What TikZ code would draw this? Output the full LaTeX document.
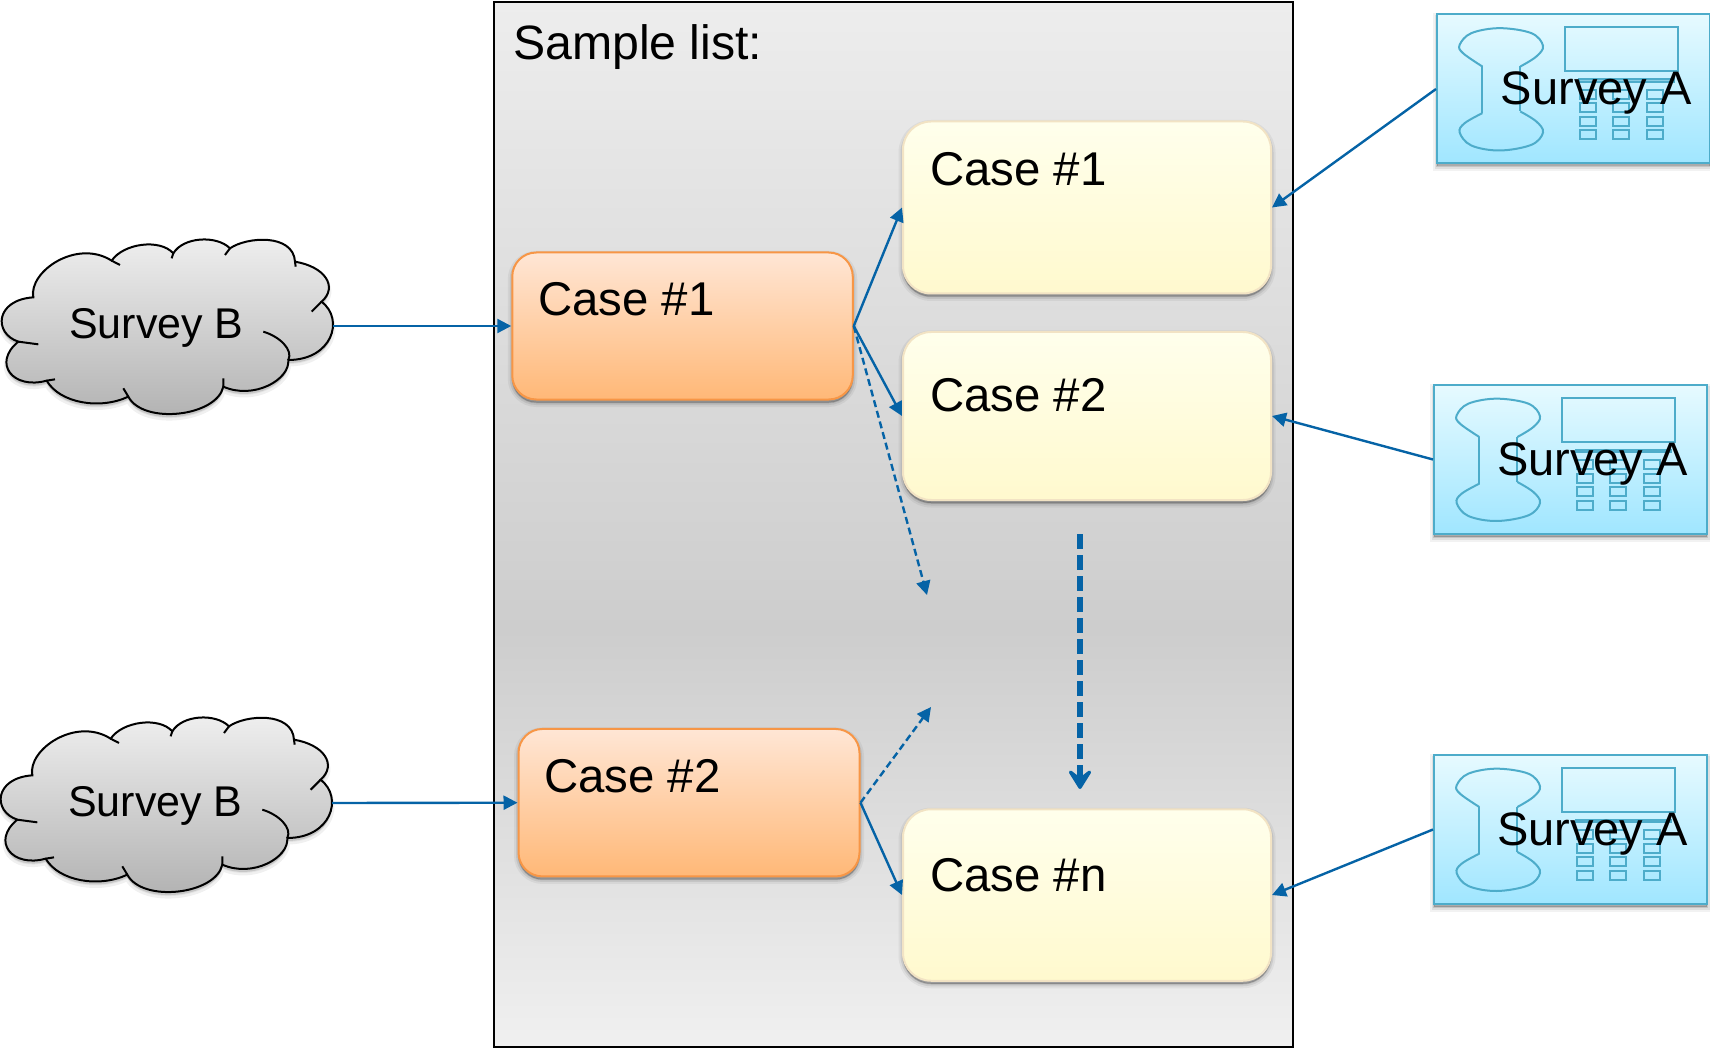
\documentclass[tikz,border=0pt]{standalone}
\usepackage{fontspec}
\setmainfont{Liberation Sans}
\usetikzlibrary{arrows.meta,shadows}
\definecolor{linkblue}{HTML}{0563A6}
\definecolor{cyanline}{HTML}{4DACCA}
\definecolor{panelbot}{HTML}{F0F0F0}
\definecolor{panelmid}{HTML}{CDCDCD}
\definecolor{paneltop}{HTML}{EDEDED}
\definecolor{orangeedge}{HTML}{F79646}
\definecolor{orangetop}{HTML}{FFE6D5}
\definecolor{orangebot}{HTML}{FFB877}
\definecolor{yellowedge}{HTML}{F2E3C4}
\definecolor{yellowtop}{HTML}{FFFFEC}
\definecolor{yellowbot}{HTML}{FFF9CE}
\definecolor{phonetop}{HTML}{E6FAFF}
\definecolor{phonebot}{HTML}{A0E6FF}
\definecolor{cloudtop}{HTML}{F0F0F0}
\definecolor{cloudbot}{HTML}{B0B0B0}
\pgfdeclareverticalshading{panelshade}{100bp}{color(0bp)=(panelbot); color(25bp)=(panelbot); color(45bp)=(panelmid); color(75bp)=(paneltop); color(100bp)=(paneltop)}
\tikzset{
  softshadow/.style={
    general shadow={shadow xshift=0pt,shadow yshift=-3pt,draw=black,fill=black,line width=9pt,opacity=.05},
    general shadow={shadow xshift=0pt,shadow yshift=-3pt,draw=black,fill=black,line width=5pt,opacity=.08},
    general shadow={shadow xshift=0pt,shadow yshift=-3pt,draw=black,fill=black,line width=1.5pt,opacity=.12}},
  panelbox/.style={draw=black,line width=1.8pt,shading=panelshade,inner sep=0pt},
  orangebox/.style={draw=orangeedge,line width=2pt,rounded corners=24pt,top color=orangetop,bottom color=orangebot,softshadow,inner sep=0pt},
  yellowbox/.style={draw=yellowedge,line width=2pt,rounded corners=28pt,top color=yellowtop,bottom color=yellowbot,softshadow,inner sep=0pt},
  phonebox/.style={draw=cyanline,line width=2pt,top color=phonetop,bottom color=phonebot,softshadow,inner sep=0pt,minimum width=273pt,minimum height=149pt},
  ghost/.style={inner sep=0pt,minimum width=331pt,minimum height=173pt},
  casetxt/.style={anchor=base west,inner sep=0pt,font=\fontsize{47.4}{56}\selectfont,text=black},
  titletxt/.style={anchor=base west,inner sep=0pt,font=\fontsize{48.2}{56}\selectfont,text=black},
  cloudtxt/.style={anchor=base west,inner sep=0pt,font=\fontsize{43}{50}\selectfont,text=black},
  link/.style={draw=linkblue,line width=2.4pt,-{Triangle[length=14pt,width=14pt]}},
  dashlink/.style={link,dash pattern=on 7pt off 4pt},
  biglink/.style={draw=linkblue,line width=5.3pt,dash pattern=on 15pt off 6pt,-{Stealth[length=25pt,width=31pt,inset=12pt,round]}},
  cloudpic/.pic={
    \draw[black,line width=2pt,top color=cloudtop,bottom color=cloudbot,scale=1/3,
      general shadow={shadow xshift=0pt,shadow yshift=-4pt,draw=black,fill=black,line width=5pt,opacity=.06},
      general shadow={shadow xshift=0pt,shadow yshift=-3pt,fill=black,opacity=.12}]
      (100,232) .. controls (85,155) and (230,55) .. (335,122)
      .. controls (370,70) and (480,55) .. (520,100)
      .. controls (550,50) and (650,45) .. (690,85)
      .. controls (740,50) and (880,40) .. (885,125)
      .. controls (975,140) and (1015,200) .. (965,245)
      .. controls (1035,300) and (995,420) .. (865,420)
      .. controls (870,480) and (760,540) .. (670,500)
      .. controls (650,590) and (430,615) .. (385,530)
      .. controls (300,570) and (180,550) .. (140,482)
      .. controls (40,510) and (-25,430) .. (55,365)
      .. controls (-20,340) and (-15,240) .. (100,232) -- cycle;
    \draw[black,line width=2pt,scale=1/3]
      (335,122) -- (360,135) (520,100) -- (515,115) (690,85) -- (675,105) (885,125) -- (887,140)
      (965,245) -- (935,275) (670,500) -- (670,475) (385,530) -- (370,505) (140,482) -- (165,478)
      (55,365) -- (115,373)
      (790,335) .. controls (840,350) and (880,390) .. (865,420);
  },
  phonepic/.pic={
    \begin{scope}[scale=1/3,shift={(-109,-41)}]
      \draw[line width=2pt,draw=cyanline] plot[smooth,tension=.6] coordinates {(248,200)(190,160)(180,135)(215,100)(300,85)(395,100)(430,138)(410,170)(362,200)};
      \draw[line width=2pt,draw=cyanline] (362,200) -- (362,335);
      \draw[line width=2pt,draw=cyanline] plot[smooth,tension=.6] coordinates {(362,335)(410,365)(430,398)(395,435)(300,452)(215,437)(180,398)(195,370)(248,340)};
      \draw[line width=2pt,draw=cyanline] (248,340) -- (248,200);
      \draw[line width=2pt,draw=cyanline] (496,82) rectangle (834,214);
      \draw[line width=2pt,draw=cyanline,fill=cyanline,fill opacity=.5] (538,239) rectangle (822,246);
      \foreach \kx in {541,640,741} \foreach \ky in {270,310,351,392}
        \draw[line width=2pt,draw=cyanline] (\kx,\ky) rectangle ++(49,27);
    \end{scope}
  }
}
\begin{document}
\begin{tikzpicture}[x=1pt,y=-1pt]
\useasboundingbox (0,0) rectangle (1710,1048);
\node[panelbox,minimum width=799pt,minimum height=1045pt] (panel) at (893.5,524.5) {};
\node[titletxt] (paneltitle) at (513,60) {Sample list:};

\node[orangebox,minimum width=340.5pt,minimum height=147pt] (c1) at (682.5,326) {};
\node[orangebox,minimum width=341pt,minimum height=147.5pt] (c2) at (689,802.7) {};
\node[yellowbox,minimum width=368pt,minimum height=172pt] (y1) at (1087,207.5) {};
\node[yellowbox,minimum width=368pt,minimum height=168pt] (y2) at (1087,416) {};
\node[yellowbox,minimum width=368pt,minimum height=171.5pt] (yn) at (1087,895) {};
\node[casetxt] (c1t) at (538,315.7) {Case \#1};
\node[casetxt] (c2t) at (544,792.2) {Case \#2};
\node[casetxt] (y1t) at (930,185.7) {Case \#1};
\node[casetxt] (y2t) at (930,411.2) {Case \#2};
\node[casetxt] (ynt) at (930,891.2) {Case \#n};

\node[phonebox] (a1) at (1573.5,89) {};
\node[phonebox] (a2) at (1570.5,459.5) {};
\node[phonebox] (a3) at (1570.5,829.5) {};
\path (a1.north west) pic {phonepic};
\path (a2.north west) pic {phonepic};
\path (a3.north west) pic {phonepic};
\node[casetxt,font=\fontsize{47}{56}\selectfont] (a1t) at (1500.7,105) {Survey A};
\node[casetxt,font=\fontsize{47}{56}\selectfont] (a2t) at (1497,475.5) {Survey A};
\node[casetxt,font=\fontsize{47}{56}\selectfont] (a3t) at (1497,845) {Survey A};

\path (0,220) pic {cloudpic};
\path (-1,698) pic {cloudpic};
\node[ghost] (b1) at (167.5,326) {};
\node[ghost] (b2) at (166.5,803) {};
\node[cloudtxt] (b1t) at (69,338.5) {Survey B};
\node[cloudtxt] (b2t) at (68,816.5) {Survey B};

\coordinate (free1) at (927,595);
\coordinate (free2) at (931,707);
\coordinate (bigstart) at (1080,534);
\coordinate (bigend) at (1080,789);

\draw[link] (b1.east) -- (c1.west);
\draw[link] (b2.east) -- (c2.west);
\draw[link] (c1.east) -- (y1.west);
\draw[link] (c1.east) -- (y2.west);
\draw[dashlink] (c1.east) -- (free1);
\draw[dashlink] (c2.east) -- (free2);
\draw[link] (c2.east) -- (yn.west);
\draw[link] (a1.west) -- (y1.east);
\draw[link] (a2.west) -- (y2.east);
\draw[link] (a3.west) -- (yn.east);
\draw[biglink] (bigstart) -- (bigend);
\end{tikzpicture}
\end{document}
